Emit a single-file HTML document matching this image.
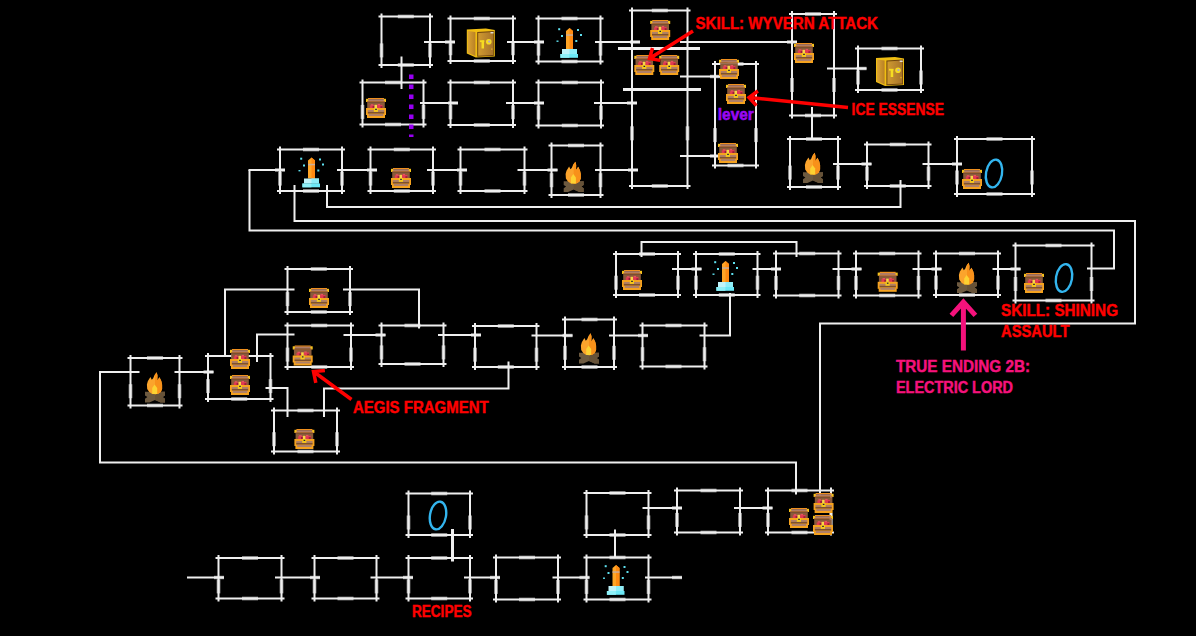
<!DOCTYPE html>
<html><head><meta charset="utf-8"><style>
html,body{margin:0;padding:0;background:#000;width:1196px;height:636px;overflow:hidden;position:relative}
</style></head><body>
<svg width="1196" height="636" viewBox="0 0 1196 636" style="position:absolute;left:0;top:0">
<defs>
<linearGradient id="sg" x1="0" x2="1" y1="0" y2="0"><stop offset="0" stop-color="#cf9a30"/><stop offset="1" stop-color="#a8742a"/></linearGradient>
<linearGradient id="sg2" x1="0" x2="1" y1="0" y2="0"><stop offset="0" stop-color="#dca432"/><stop offset="1" stop-color="#b88026"/></linearGradient>
</defs>
<rect width="1196" height="636" fill="#000"/>
<g fill="#a8a8a8">
<rect x="397.8" y="14.7" width="16" height="3.6"/>
<rect x="397.8" y="63.2" width="16" height="3.6"/>
<rect x="379.7" y="43.4" width="3.6" height="14"/>
<rect x="428.2" y="43.4" width="3.6" height="14"/>
<rect x="473.8" y="16.7" width="16" height="3.6"/>
<rect x="473.8" y="59.2" width="16" height="3.6"/>
<rect x="448.7" y="41.2" width="3.6" height="14"/>
<rect x="511.2" y="41.2" width="3.6" height="14"/>
<rect x="561.5" y="16.7" width="16" height="3.6"/>
<rect x="561.5" y="59.7" width="16" height="3.6"/>
<rect x="536.7" y="41.6" width="3.6" height="14"/>
<rect x="598.7" y="41.6" width="3.6" height="14"/>
<rect x="651.8" y="8.7" width="16" height="3.6"/>
<rect x="651.8" y="184.2" width="16" height="3.6"/>
<rect x="630.2" y="126.3" width="3.6" height="14"/>
<rect x="685.7" y="126.3" width="3.6" height="14"/>
<rect x="805.0" y="12.2" width="16" height="3.6"/>
<rect x="805.0" y="113.7" width="16" height="3.6"/>
<rect x="790.2" y="78.0" width="3.6" height="14"/>
<rect x="832.2" y="78.0" width="3.6" height="14"/>
<rect x="881.5" y="46.7" width="16" height="3.6"/>
<rect x="881.5" y="88.2" width="16" height="3.6"/>
<rect x="856.2" y="70.5" width="3.6" height="14"/>
<rect x="919.2" y="70.5" width="3.6" height="14"/>
<rect x="385.0" y="80.7" width="16" height="3.6"/>
<rect x="385.0" y="122.7" width="16" height="3.6"/>
<rect x="360.7" y="104.9" width="3.6" height="14"/>
<rect x="421.7" y="104.9" width="3.6" height="14"/>
<rect x="473.8" y="80.7" width="16" height="3.6"/>
<rect x="473.8" y="123.2" width="16" height="3.6"/>
<rect x="448.7" y="105.2" width="3.6" height="14"/>
<rect x="511.2" y="105.2" width="3.6" height="14"/>
<rect x="561.8" y="80.7" width="16" height="3.6"/>
<rect x="561.8" y="123.7" width="16" height="3.6"/>
<rect x="536.7" y="105.6" width="3.6" height="14"/>
<rect x="599.2" y="105.6" width="3.6" height="14"/>
<rect x="727.5" y="62.2" width="16" height="3.6"/>
<rect x="727.5" y="163.7" width="16" height="3.6"/>
<rect x="713.2" y="128.1" width="3.6" height="14"/>
<rect x="754.2" y="128.1" width="3.6" height="14"/>
<rect x="303.0" y="147.7" width="16" height="3.6"/>
<rect x="303.0" y="189.2" width="16" height="3.6"/>
<rect x="278.2" y="171.6" width="3.6" height="14"/>
<rect x="340.2" y="171.6" width="3.6" height="14"/>
<rect x="393.8" y="147.7" width="16" height="3.6"/>
<rect x="393.8" y="189.2" width="16" height="3.6"/>
<rect x="368.7" y="171.6" width="3.6" height="14"/>
<rect x="431.2" y="171.6" width="3.6" height="14"/>
<rect x="484.5" y="147.7" width="16" height="3.6"/>
<rect x="484.5" y="189.2" width="16" height="3.6"/>
<rect x="458.7" y="171.6" width="3.6" height="14"/>
<rect x="522.7" y="171.6" width="3.6" height="14"/>
<rect x="568.0" y="143.7" width="16" height="3.6"/>
<rect x="568.0" y="193.2" width="16" height="3.6"/>
<rect x="549.7" y="173.2" width="3.6" height="14"/>
<rect x="598.7" y="173.2" width="3.6" height="14"/>
<rect x="806.0" y="137.2" width="16" height="3.6"/>
<rect x="806.0" y="185.2" width="16" height="3.6"/>
<rect x="788.2" y="165.6" width="3.6" height="14"/>
<rect x="836.2" y="165.6" width="3.6" height="14"/>
<rect x="889.8" y="142.7" width="16" height="3.6"/>
<rect x="889.8" y="184.2" width="16" height="3.6"/>
<rect x="865.2" y="166.6" width="3.6" height="14"/>
<rect x="926.7" y="166.6" width="3.6" height="14"/>
<rect x="986.5" y="137.2" width="16" height="3.6"/>
<rect x="986.5" y="192.2" width="16" height="3.6"/>
<rect x="955.2" y="170.5" width="3.6" height="14"/>
<rect x="1030.2" y="170.5" width="3.6" height="14"/>
<rect x="639.0" y="252.2" width="16" height="3.6"/>
<rect x="639.0" y="293.2" width="16" height="3.6"/>
<rect x="614.2" y="275.7" width="3.6" height="14"/>
<rect x="676.2" y="275.7" width="3.6" height="14"/>
<rect x="718.8" y="252.2" width="16" height="3.6"/>
<rect x="718.8" y="293.2" width="16" height="3.6"/>
<rect x="694.2" y="275.7" width="3.6" height="14"/>
<rect x="755.7" y="275.7" width="3.6" height="14"/>
<rect x="799.2" y="251.7" width="16" height="3.6"/>
<rect x="799.2" y="293.7" width="16" height="3.6"/>
<rect x="774.2" y="275.9" width="3.6" height="14"/>
<rect x="836.7" y="275.9" width="3.6" height="14"/>
<rect x="879.2" y="251.7" width="16" height="3.6"/>
<rect x="879.2" y="293.7" width="16" height="3.6"/>
<rect x="854.2" y="275.9" width="3.6" height="14"/>
<rect x="916.7" y="275.9" width="3.6" height="14"/>
<rect x="959.0" y="251.7" width="16" height="3.6"/>
<rect x="959.0" y="293.2" width="16" height="3.6"/>
<rect x="934.2" y="275.6" width="3.6" height="14"/>
<rect x="996.2" y="275.6" width="3.6" height="14"/>
<rect x="1045.5" y="243.7" width="16" height="3.6"/>
<rect x="1045.5" y="298.7" width="16" height="3.6"/>
<rect x="1013.7" y="277.0" width="3.6" height="14"/>
<rect x="1089.7" y="277.0" width="3.6" height="14"/>
<rect x="310.8" y="267.2" width="16" height="3.6"/>
<rect x="310.8" y="310.2" width="16" height="3.6"/>
<rect x="285.7" y="292.1" width="3.6" height="14"/>
<rect x="348.2" y="292.1" width="3.6" height="14"/>
<rect x="311.2" y="323.7" width="16" height="3.6"/>
<rect x="311.2" y="365.2" width="16" height="3.6"/>
<rect x="285.7" y="347.6" width="3.6" height="14"/>
<rect x="349.2" y="347.6" width="3.6" height="14"/>
<rect x="404.5" y="323.7" width="16" height="3.6"/>
<rect x="404.5" y="362.2" width="16" height="3.6"/>
<rect x="379.7" y="345.4" width="3.6" height="14"/>
<rect x="441.7" y="345.4" width="3.6" height="14"/>
<rect x="231.2" y="354.2" width="16" height="3.6"/>
<rect x="231.2" y="397.2" width="16" height="3.6"/>
<rect x="206.2" y="379.1" width="3.6" height="14"/>
<rect x="268.7" y="379.1" width="3.6" height="14"/>
<rect x="147.0" y="356.2" width="16" height="3.6"/>
<rect x="147.0" y="403.7" width="16" height="3.6"/>
<rect x="128.7" y="384.2" width="3.6" height="14"/>
<rect x="177.7" y="384.2" width="3.6" height="14"/>
<rect x="297.5" y="408.7" width="16" height="3.6"/>
<rect x="297.5" y="449.7" width="16" height="3.6"/>
<rect x="272.2" y="432.2" width="3.6" height="14"/>
<rect x="335.2" y="432.2" width="3.6" height="14"/>
<rect x="497.8" y="324.2" width="16" height="3.6"/>
<rect x="497.8" y="365.2" width="16" height="3.6"/>
<rect x="473.2" y="347.7" width="3.6" height="14"/>
<rect x="534.7" y="347.7" width="3.6" height="14"/>
<rect x="581.5" y="317.7" width="16" height="3.6"/>
<rect x="581.5" y="365.2" width="16" height="3.6"/>
<rect x="563.2" y="345.8" width="3.6" height="14"/>
<rect x="612.2" y="345.8" width="3.6" height="14"/>
<rect x="665.5" y="323.7" width="16" height="3.6"/>
<rect x="665.5" y="364.7" width="16" height="3.6"/>
<rect x="640.7" y="347.2" width="3.6" height="14"/>
<rect x="702.7" y="347.2" width="3.6" height="14"/>
<rect x="431.2" y="491.7" width="16" height="3.6"/>
<rect x="431.2" y="533.2" width="16" height="3.6"/>
<rect x="406.7" y="515.5" width="3.6" height="14"/>
<rect x="468.2" y="515.5" width="3.6" height="14"/>
<rect x="242.0" y="556.2" width="16" height="3.6"/>
<rect x="242.0" y="596.7" width="16" height="3.6"/>
<rect x="216.7" y="579.4" width="3.6" height="14"/>
<rect x="279.7" y="579.4" width="3.6" height="14"/>
<rect x="337.5" y="556.2" width="16" height="3.6"/>
<rect x="337.5" y="596.7" width="16" height="3.6"/>
<rect x="312.7" y="579.4" width="3.6" height="14"/>
<rect x="374.7" y="579.4" width="3.6" height="14"/>
<rect x="431.2" y="556.2" width="16" height="3.6"/>
<rect x="431.2" y="596.7" width="16" height="3.6"/>
<rect x="406.7" y="579.4" width="3.6" height="14"/>
<rect x="468.2" y="579.4" width="3.6" height="14"/>
<rect x="519.0" y="555.7" width="16" height="3.6"/>
<rect x="519.0" y="597.7" width="16" height="3.6"/>
<rect x="494.2" y="579.9" width="3.6" height="14"/>
<rect x="556.2" y="579.9" width="3.6" height="14"/>
<rect x="609.5" y="555.7" width="16" height="3.6"/>
<rect x="609.5" y="597.7" width="16" height="3.6"/>
<rect x="584.7" y="579.9" width="3.6" height="14"/>
<rect x="646.7" y="579.9" width="3.6" height="14"/>
<rect x="609.5" y="491.2" width="16" height="3.6"/>
<rect x="609.5" y="533.2" width="16" height="3.6"/>
<rect x="584.7" y="515.4" width="3.6" height="14"/>
<rect x="646.7" y="515.4" width="3.6" height="14"/>
<rect x="700.5" y="488.7" width="16" height="3.6"/>
<rect x="700.5" y="530.7" width="16" height="3.6"/>
<rect x="675.2" y="512.9" width="3.6" height="14"/>
<rect x="738.2" y="512.9" width="3.6" height="14"/>
<rect x="791.5" y="488.7" width="16" height="3.6"/>
<rect x="791.5" y="530.7" width="16" height="3.6"/>
<rect x="766.2" y="512.9" width="3.6" height="14"/>
<rect x="829.2" y="512.9" width="3.6" height="14"/>
<rect x="445.0" y="40.3" width="10" height="3.4"/>
<rect x="534.0" y="40.3" width="10" height="3.4"/>
<rect x="630.0" y="40.3" width="10" height="3.4"/>
<rect x="787.0" y="40.3" width="10" height="3.4"/>
<rect x="448.0" y="101.3" width="10" height="3.4"/>
<rect x="534.0" y="101.3" width="10" height="3.4"/>
<rect x="627.0" y="101.3" width="10" height="3.4"/>
<rect x="710.0" y="74.8" width="10" height="3.4"/>
<rect x="710.0" y="154.3" width="10" height="3.4"/>
<rect x="856.5" y="66.8" width="10" height="3.4"/>
<rect x="861.5" y="162.3" width="10" height="3.4"/>
<rect x="952.0" y="162.3" width="10" height="3.4"/>
<rect x="275.0" y="168.3" width="10" height="3.4"/>
<rect x="367.0" y="168.3" width="10" height="3.4"/>
<rect x="457.0" y="168.3" width="10" height="3.4"/>
<rect x="547.5" y="168.3" width="10" height="3.4"/>
<rect x="628.0" y="168.3" width="10" height="3.4"/>
<rect x="691.5" y="267.3" width="10" height="3.4"/>
<rect x="771.0" y="267.3" width="10" height="3.4"/>
<rect x="851.5" y="267.3" width="10" height="3.4"/>
<rect x="931.5" y="267.3" width="10" height="3.4"/>
<rect x="1010.5" y="267.3" width="10" height="3.4"/>
<rect x="375.5" y="333.3" width="10" height="3.4"/>
<rect x="471.0" y="333.3" width="10" height="3.4"/>
<rect x="562.5" y="333.8" width="10" height="3.4"/>
<rect x="638.0" y="333.8" width="10" height="3.4"/>
<rect x="203.5" y="370.3" width="10" height="3.4"/>
<rect x="214.0" y="575.8" width="10" height="3.4"/>
<rect x="310.0" y="575.8" width="10" height="3.4"/>
<rect x="403.0" y="575.8" width="10" height="3.4"/>
<rect x="490.0" y="575.8" width="10" height="3.4"/>
<rect x="579.5" y="575.8" width="10" height="3.4"/>
<rect x="672.0" y="575.8" width="10" height="3.4"/>
<rect x="672.0" y="506.3" width="10" height="3.4"/>
<rect x="762.5" y="506.3" width="10" height="3.4"/>
</g>
<g stroke="#efefef" stroke-width="2" fill="none" stroke-linecap="butt">
<path d="M378.5 16.5H433.0M378.5 65.0H433.0M381.5 13.5V68.0M430.0 13.5V68.0"/>
<path d="M447.5 18.5H516.0M447.5 61.0H516.0M450.5 15.5V64.0M513.0 15.5V64.0"/>
<path d="M535.5 18.5H603.5M535.5 61.5H603.5M538.5 15.5V64.5M600.5 15.5V64.5"/>
<path d="M629.0 10.5H690.5M629.0 186.0H690.5M632.0 7.5V189.0M687.5 7.5V189.0"/>
<path d="M789.0 14.0H837.0M789.0 115.5H837.0M792.0 11.0V118.5M834.0 11.0V118.5"/>
<path d="M855.0 48.5H924.0M855.0 90.0H924.0M858.0 45.5V93.0M921.0 45.5V93.0"/>
<path d="M359.5 82.5H426.5M359.5 124.5H426.5M362.5 79.5V127.5M423.5 79.5V127.5"/>
<path d="M447.5 82.5H516.0M447.5 125.0H516.0M450.5 79.5V128.0M513.0 79.5V128.0"/>
<path d="M535.5 82.5H604.0M535.5 125.5H604.0M538.5 79.5V128.5M601.0 79.5V128.5"/>
<path d="M712.0 64.0H759.0M712.0 165.5H759.0M715.0 61.0V168.5M756.0 61.0V168.5"/>
<path d="M277.0 149.5H345.0M277.0 191.0H345.0M280.0 146.5V194.0M342.0 146.5V194.0"/>
<path d="M367.5 149.5H436.0M367.5 191.0H436.0M370.5 146.5V194.0M433.0 146.5V194.0"/>
<path d="M457.5 149.5H527.5M457.5 191.0H527.5M460.5 146.5V194.0M524.5 146.5V194.0"/>
<path d="M548.5 145.5H603.5M548.5 195.0H603.5M551.5 142.5V198.0M600.5 142.5V198.0"/>
<path d="M787.0 139.0H841.0M787.0 187.0H841.0M790.0 136.0V190.0M838.0 136.0V190.0"/>
<path d="M864.0 144.5H931.5M864.0 186.0H931.5M867.0 141.5V189.0M928.5 141.5V189.0"/>
<path d="M954.0 139.0H1035.0M954.0 194.0H1035.0M957.0 136.0V197.0M1032.0 136.0V197.0"/>
<path d="M613.0 254.0H681.0M613.0 295.0H681.0M616.0 251.0V298.0M678.0 251.0V298.0"/>
<path d="M693.0 254.0H760.5M693.0 295.0H760.5M696.0 251.0V298.0M757.5 251.0V298.0"/>
<path d="M773.0 253.5H841.5M773.0 295.5H841.5M776.0 250.5V298.5M838.5 250.5V298.5"/>
<path d="M853.0 253.5H921.5M853.0 295.5H921.5M856.0 250.5V298.5M918.5 250.5V298.5"/>
<path d="M933.0 253.5H1001.0M933.0 295.0H1001.0M936.0 250.5V298.0M998.0 250.5V298.0"/>
<path d="M1012.5 245.5H1094.5M1012.5 300.5H1094.5M1015.5 242.5V303.5M1091.5 242.5V303.5"/>
<path d="M284.5 269.0H353.0M284.5 312.0H353.0M287.5 266.0V315.0M350.0 266.0V315.0"/>
<path d="M284.5 325.5H354.0M284.5 367.0H354.0M287.5 322.5V370.0M351.0 322.5V370.0"/>
<path d="M378.5 325.5H446.5M378.5 364.0H446.5M381.5 322.5V367.0M443.5 322.5V367.0"/>
<path d="M205.0 356.0H273.5M205.0 399.0H273.5M208.0 353.0V402.0M270.5 353.0V402.0"/>
<path d="M127.5 358.0H182.5M127.5 405.5H182.5M130.5 355.0V408.5M179.5 355.0V408.5"/>
<path d="M271.0 410.5H340.0M271.0 451.5H340.0M274.0 407.5V454.5M337.0 407.5V454.5"/>
<path d="M472.0 326.0H539.5M472.0 367.0H539.5M475.0 323.0V370.0M536.5 323.0V370.0"/>
<path d="M562.0 319.5H617.0M562.0 367.0H617.0M565.0 316.5V370.0M614.0 316.5V370.0"/>
<path d="M639.5 325.5H707.5M639.5 366.5H707.5M642.5 322.5V369.5M704.5 322.5V369.5"/>
<path d="M405.5 493.5H473.0M405.5 535.0H473.0M408.5 490.5V538.0M470.0 490.5V538.0"/>
<path d="M215.5 558.0H284.5M215.5 598.5H284.5M218.5 555.0V601.5M281.5 555.0V601.5"/>
<path d="M311.5 558.0H379.5M311.5 598.5H379.5M314.5 555.0V601.5M376.5 555.0V601.5"/>
<path d="M405.5 558.0H473.0M405.5 598.5H473.0M408.5 555.0V601.5M470.0 555.0V601.5"/>
<path d="M493.0 557.5H561.0M493.0 599.5H561.0M496.0 554.5V602.5M558.0 554.5V602.5"/>
<path d="M583.5 557.5H651.5M583.5 599.5H651.5M586.5 554.5V602.5M648.5 554.5V602.5"/>
<path d="M583.5 493.0H651.5M583.5 535.0H651.5M586.5 490.0V538.0M648.5 490.0V538.0"/>
<path d="M674.0 490.5H743.0M674.0 532.5H743.0M677.0 487.5V535.5M740.0 487.5V535.5"/>
<path d="M765.0 490.5H834.0M765.0 532.5H834.0M768.0 487.5V535.5M831.0 487.5V535.5"/>
<path d="M424.0 42.0 L455.0 42.0"/>
<path d="M507.0 42.0 L544.0 42.0"/>
<path d="M595.0 42.0 L640.0 42.0"/>
<path d="M680.0 42.0 L797.0 42.0"/>
<path d="M401.5 56.5 L401.5 89.0"/>
<path d="M420.0 103.0 L458.0 103.0"/>
<path d="M506.0 103.0 L544.0 103.0"/>
<path d="M594.0 103.0 L637.0 103.0"/>
<path d="M680.0 76.5 L720.0 76.5"/>
<path d="M680.0 156.0 L720.0 156.0"/>
<path d="M827.0 68.5 L866.5 68.5"/>
<path d="M812.0 107.0 L812.0 140.0"/>
<path d="M833.0 164.0 L871.5 164.0"/>
<path d="M922.5 164.0 L962.0 164.0"/>
<path d="M900.5 180.0 L900.5 207.0 L327.0 207.0 L327.0 185.0"/>
<path d="M294.5 185.0 L294.5 221.0 L1135.0 221.0 L1135.0 323.5 L820.0 323.5 L820.0 494.5"/>
<path d="M249.5 170.0 L249.5 230.5 L1114.0 230.5 L1114.0 268.5 L1087.0 268.5"/>
<path d="M248.5 170.0 L285.0 170.0"/>
<path d="M337.0 170.0 L377.0 170.0"/>
<path d="M427.0 170.0 L467.0 170.0"/>
<path d="M517.5 170.0 L557.5 170.0"/>
<path d="M595.0 170.0 L638.0 170.0"/>
<path d="M641.5 257.0 L641.5 242.0 L796.5 242.0 L796.5 257.0"/>
<path d="M672.0 269.0 L701.5 269.0"/>
<path d="M752.5 269.0 L781.0 269.0"/>
<path d="M832.5 269.0 L861.5 269.0"/>
<path d="M912.5 269.0 L941.5 269.0"/>
<path d="M992.5 269.0 L1020.5 269.0"/>
<path d="M730.0 293.0 L730.0 335.5 L699.5 335.5"/>
<path d="M225.0 356.0 L225.0 289.5 L294.5 289.5"/>
<path d="M343.0 289.5 L419.0 289.5 L419.0 328.5"/>
<path d="M257.0 362.0 L257.0 334.5 L294.5 334.5"/>
<path d="M343.5 335.0 L385.5 335.0"/>
<path d="M438.0 335.0 L481.0 335.0"/>
<path d="M531.5 335.5 L572.5 335.5"/>
<path d="M609.0 335.5 L648.0 335.5"/>
<path d="M174.5 372.0 L213.5 372.0"/>
<path d="M139.5 372.0 L100.0 372.0 L100.0 462.5 L796.0 462.5 L796.0 494.5"/>
<path d="M265.5 388.0 L287.5 388.0 L287.5 417.0"/>
<path d="M324.0 417.0 L324.0 388.5 L508.5 388.5 L508.5 361.5"/>
<path d="M187.0 577.5 L224.0 577.5"/>
<path d="M275.0 577.5 L320.0 577.5"/>
<path d="M370.5 577.5 L413.0 577.5"/>
<path d="M464.0 577.5 L500.0 577.5"/>
<path d="M552.5 577.5 L589.5 577.5"/>
<path d="M645.0 577.5 L682.0 577.5"/>
<path d="M615.0 529.5 L615.0 558.0"/>
<path d="M642.5 508.0 L682.0 508.0"/>
<path d="M734.0 508.0 L772.5 508.0"/>
<path d="M618 48.5 L700 48.5" stroke-width="3" stroke-linecap="butt"/>
<path d="M623 89.5 L701 89.5" stroke-width="3" stroke-linecap="butt"/>
<path d="M452.5 529 L452.5 561.5" stroke-width="3" stroke-linecap="butt"/>
</g>
<g transform="translate(366.0 98.0)"><rect x="2" y="0" width="16" height="1.3" fill="#f0901e"/>
<rect x="1" y="1.2" width="18" height="2" fill="#b07c66"/>
<rect x="0" y="0.8" width="2.2" height="3.2" fill="#f6c21a"/>
<rect x="17.8" y="0.8" width="2.2" height="3.2" fill="#f6c21a"/>
<rect x="1" y="3.1" width="18" height="1.2" fill="#b5703a"/>
<rect x="1.2" y="4.2" width="17.6" height="6" fill="#8a5a3a"/>
<rect x="3.8" y="7.3" width="5" height="2.9" fill="#e03a50"/>
<rect x="4.8" y="6.2" width="2.6" height="1.4" fill="#e85060"/>
<rect x="6.6" y="8" width="2" height="2.2" fill="#981c3c"/>
<rect x="10.8" y="6.9" width="5.6" height="3.3" fill="#e03a50"/>
<rect x="11.6" y="5.9" width="2.4" height="1.4" fill="#e85060"/>
<rect x="14.4" y="8.2" width="2" height="2" fill="#981c3c"/>
<rect x="8.5" y="6.8" width="2.5" height="3.4" fill="#f8d848"/>
<rect x="0" y="10" width="20" height="7" fill="#f5a21e"/>
<rect x="1" y="16.5" width="18" height="3.5" fill="#f5a21e"/>
<rect x="1.8" y="12" width="16.4" height="1.9" fill="#b08068"/>
<rect x="1.8" y="13.9" width="16.4" height="1.7" fill="#7c5032"/>
<rect x="2.8" y="16" width="14.4" height="2" fill="#b08068"/>
<rect x="7.8" y="10" width="4.2" height="3.9" fill="#f6c81a"/>
<rect x="9.2" y="10.8" width="1.6" height="1.2" fill="#1c2040"/></g>
<g transform="translate(650.2 20.0)"><rect x="2" y="0" width="16" height="1.3" fill="#f0901e"/>
<rect x="1" y="1.2" width="18" height="2" fill="#b07c66"/>
<rect x="0" y="0.8" width="2.2" height="3.2" fill="#f6c21a"/>
<rect x="17.8" y="0.8" width="2.2" height="3.2" fill="#f6c21a"/>
<rect x="1" y="3.1" width="18" height="1.2" fill="#b5703a"/>
<rect x="1.2" y="4.2" width="17.6" height="6" fill="#8a5a3a"/>
<rect x="3.8" y="7.3" width="5" height="2.9" fill="#e03a50"/>
<rect x="4.8" y="6.2" width="2.6" height="1.4" fill="#e85060"/>
<rect x="6.6" y="8" width="2" height="2.2" fill="#981c3c"/>
<rect x="10.8" y="6.9" width="5.6" height="3.3" fill="#e03a50"/>
<rect x="11.6" y="5.9" width="2.4" height="1.4" fill="#e85060"/>
<rect x="14.4" y="8.2" width="2" height="2" fill="#981c3c"/>
<rect x="8.5" y="6.8" width="2.5" height="3.4" fill="#f8d848"/>
<rect x="0" y="10" width="20" height="7" fill="#f5a21e"/>
<rect x="1" y="16.5" width="18" height="3.5" fill="#f5a21e"/>
<rect x="1.8" y="12" width="16.4" height="1.9" fill="#b08068"/>
<rect x="1.8" y="13.9" width="16.4" height="1.7" fill="#7c5032"/>
<rect x="2.8" y="16" width="14.4" height="2" fill="#b08068"/>
<rect x="7.8" y="10" width="4.2" height="3.9" fill="#f6c81a"/>
<rect x="9.2" y="10.8" width="1.6" height="1.2" fill="#1c2040"/></g>
<g transform="translate(634.3 55.0)"><rect x="2" y="0" width="16" height="1.3" fill="#f0901e"/>
<rect x="1" y="1.2" width="18" height="2" fill="#b07c66"/>
<rect x="0" y="0.8" width="2.2" height="3.2" fill="#f6c21a"/>
<rect x="17.8" y="0.8" width="2.2" height="3.2" fill="#f6c21a"/>
<rect x="1" y="3.1" width="18" height="1.2" fill="#b5703a"/>
<rect x="1.2" y="4.2" width="17.6" height="6" fill="#8a5a3a"/>
<rect x="3.8" y="7.3" width="5" height="2.9" fill="#e03a50"/>
<rect x="4.8" y="6.2" width="2.6" height="1.4" fill="#e85060"/>
<rect x="6.6" y="8" width="2" height="2.2" fill="#981c3c"/>
<rect x="10.8" y="6.9" width="5.6" height="3.3" fill="#e03a50"/>
<rect x="11.6" y="5.9" width="2.4" height="1.4" fill="#e85060"/>
<rect x="14.4" y="8.2" width="2" height="2" fill="#981c3c"/>
<rect x="8.5" y="6.8" width="2.5" height="3.4" fill="#f8d848"/>
<rect x="0" y="10" width="20" height="7" fill="#f5a21e"/>
<rect x="1" y="16.5" width="18" height="3.5" fill="#f5a21e"/>
<rect x="1.8" y="12" width="16.4" height="1.9" fill="#b08068"/>
<rect x="1.8" y="13.9" width="16.4" height="1.7" fill="#7c5032"/>
<rect x="2.8" y="16" width="14.4" height="2" fill="#b08068"/>
<rect x="7.8" y="10" width="4.2" height="3.9" fill="#f6c81a"/>
<rect x="9.2" y="10.8" width="1.6" height="1.2" fill="#1c2040"/></g>
<g transform="translate(659.2 55.0)"><rect x="2" y="0" width="16" height="1.3" fill="#f0901e"/>
<rect x="1" y="1.2" width="18" height="2" fill="#b07c66"/>
<rect x="0" y="0.8" width="2.2" height="3.2" fill="#f6c21a"/>
<rect x="17.8" y="0.8" width="2.2" height="3.2" fill="#f6c21a"/>
<rect x="1" y="3.1" width="18" height="1.2" fill="#b5703a"/>
<rect x="1.2" y="4.2" width="17.6" height="6" fill="#8a5a3a"/>
<rect x="3.8" y="7.3" width="5" height="2.9" fill="#e03a50"/>
<rect x="4.8" y="6.2" width="2.6" height="1.4" fill="#e85060"/>
<rect x="6.6" y="8" width="2" height="2.2" fill="#981c3c"/>
<rect x="10.8" y="6.9" width="5.6" height="3.3" fill="#e03a50"/>
<rect x="11.6" y="5.9" width="2.4" height="1.4" fill="#e85060"/>
<rect x="14.4" y="8.2" width="2" height="2" fill="#981c3c"/>
<rect x="8.5" y="6.8" width="2.5" height="3.4" fill="#f8d848"/>
<rect x="0" y="10" width="20" height="7" fill="#f5a21e"/>
<rect x="1" y="16.5" width="18" height="3.5" fill="#f5a21e"/>
<rect x="1.8" y="12" width="16.4" height="1.9" fill="#b08068"/>
<rect x="1.8" y="13.9" width="16.4" height="1.7" fill="#7c5032"/>
<rect x="2.8" y="16" width="14.4" height="2" fill="#b08068"/>
<rect x="7.8" y="10" width="4.2" height="3.9" fill="#f6c81a"/>
<rect x="9.2" y="10.8" width="1.6" height="1.2" fill="#1c2040"/></g>
<g transform="translate(719.0 59.0)"><rect x="2" y="0" width="16" height="1.3" fill="#f0901e"/>
<rect x="1" y="1.2" width="18" height="2" fill="#b07c66"/>
<rect x="0" y="0.8" width="2.2" height="3.2" fill="#f6c21a"/>
<rect x="17.8" y="0.8" width="2.2" height="3.2" fill="#f6c21a"/>
<rect x="1" y="3.1" width="18" height="1.2" fill="#b5703a"/>
<rect x="1.2" y="4.2" width="17.6" height="6" fill="#8a5a3a"/>
<rect x="3.8" y="7.3" width="5" height="2.9" fill="#e03a50"/>
<rect x="4.8" y="6.2" width="2.6" height="1.4" fill="#e85060"/>
<rect x="6.6" y="8" width="2" height="2.2" fill="#981c3c"/>
<rect x="10.8" y="6.9" width="5.6" height="3.3" fill="#e03a50"/>
<rect x="11.6" y="5.9" width="2.4" height="1.4" fill="#e85060"/>
<rect x="14.4" y="8.2" width="2" height="2" fill="#981c3c"/>
<rect x="8.5" y="6.8" width="2.5" height="3.4" fill="#f8d848"/>
<rect x="0" y="10" width="20" height="7" fill="#f5a21e"/>
<rect x="1" y="16.5" width="18" height="3.5" fill="#f5a21e"/>
<rect x="1.8" y="12" width="16.4" height="1.9" fill="#b08068"/>
<rect x="1.8" y="13.9" width="16.4" height="1.7" fill="#7c5032"/>
<rect x="2.8" y="16" width="14.4" height="2" fill="#b08068"/>
<rect x="7.8" y="10" width="4.2" height="3.9" fill="#f6c81a"/>
<rect x="9.2" y="10.8" width="1.6" height="1.2" fill="#1c2040"/></g>
<g transform="translate(726.0 84.0)"><rect x="2" y="0" width="16" height="1.3" fill="#f0901e"/>
<rect x="1" y="1.2" width="18" height="2" fill="#b07c66"/>
<rect x="0" y="0.8" width="2.2" height="3.2" fill="#f6c21a"/>
<rect x="17.8" y="0.8" width="2.2" height="3.2" fill="#f6c21a"/>
<rect x="1" y="3.1" width="18" height="1.2" fill="#b5703a"/>
<rect x="1.2" y="4.2" width="17.6" height="6" fill="#8a5a3a"/>
<rect x="3.8" y="7.3" width="5" height="2.9" fill="#e03a50"/>
<rect x="4.8" y="6.2" width="2.6" height="1.4" fill="#e85060"/>
<rect x="6.6" y="8" width="2" height="2.2" fill="#981c3c"/>
<rect x="10.8" y="6.9" width="5.6" height="3.3" fill="#e03a50"/>
<rect x="11.6" y="5.9" width="2.4" height="1.4" fill="#e85060"/>
<rect x="14.4" y="8.2" width="2" height="2" fill="#981c3c"/>
<rect x="8.5" y="6.8" width="2.5" height="3.4" fill="#f8d848"/>
<rect x="0" y="10" width="20" height="7" fill="#f5a21e"/>
<rect x="1" y="16.5" width="18" height="3.5" fill="#f5a21e"/>
<rect x="1.8" y="12" width="16.4" height="1.9" fill="#b08068"/>
<rect x="1.8" y="13.9" width="16.4" height="1.7" fill="#7c5032"/>
<rect x="2.8" y="16" width="14.4" height="2" fill="#b08068"/>
<rect x="7.8" y="10" width="4.2" height="3.9" fill="#f6c81a"/>
<rect x="9.2" y="10.8" width="1.6" height="1.2" fill="#1c2040"/></g>
<g transform="translate(718.0 143.0)"><rect x="2" y="0" width="16" height="1.3" fill="#f0901e"/>
<rect x="1" y="1.2" width="18" height="2" fill="#b07c66"/>
<rect x="0" y="0.8" width="2.2" height="3.2" fill="#f6c21a"/>
<rect x="17.8" y="0.8" width="2.2" height="3.2" fill="#f6c21a"/>
<rect x="1" y="3.1" width="18" height="1.2" fill="#b5703a"/>
<rect x="1.2" y="4.2" width="17.6" height="6" fill="#8a5a3a"/>
<rect x="3.8" y="7.3" width="5" height="2.9" fill="#e03a50"/>
<rect x="4.8" y="6.2" width="2.6" height="1.4" fill="#e85060"/>
<rect x="6.6" y="8" width="2" height="2.2" fill="#981c3c"/>
<rect x="10.8" y="6.9" width="5.6" height="3.3" fill="#e03a50"/>
<rect x="11.6" y="5.9" width="2.4" height="1.4" fill="#e85060"/>
<rect x="14.4" y="8.2" width="2" height="2" fill="#981c3c"/>
<rect x="8.5" y="6.8" width="2.5" height="3.4" fill="#f8d848"/>
<rect x="0" y="10" width="20" height="7" fill="#f5a21e"/>
<rect x="1" y="16.5" width="18" height="3.5" fill="#f5a21e"/>
<rect x="1.8" y="12" width="16.4" height="1.9" fill="#b08068"/>
<rect x="1.8" y="13.9" width="16.4" height="1.7" fill="#7c5032"/>
<rect x="2.8" y="16" width="14.4" height="2" fill="#b08068"/>
<rect x="7.8" y="10" width="4.2" height="3.9" fill="#f6c81a"/>
<rect x="9.2" y="10.8" width="1.6" height="1.2" fill="#1c2040"/></g>
<g transform="translate(794.0 43.0)"><rect x="2" y="0" width="16" height="1.3" fill="#f0901e"/>
<rect x="1" y="1.2" width="18" height="2" fill="#b07c66"/>
<rect x="0" y="0.8" width="2.2" height="3.2" fill="#f6c21a"/>
<rect x="17.8" y="0.8" width="2.2" height="3.2" fill="#f6c21a"/>
<rect x="1" y="3.1" width="18" height="1.2" fill="#b5703a"/>
<rect x="1.2" y="4.2" width="17.6" height="6" fill="#8a5a3a"/>
<rect x="3.8" y="7.3" width="5" height="2.9" fill="#e03a50"/>
<rect x="4.8" y="6.2" width="2.6" height="1.4" fill="#e85060"/>
<rect x="6.6" y="8" width="2" height="2.2" fill="#981c3c"/>
<rect x="10.8" y="6.9" width="5.6" height="3.3" fill="#e03a50"/>
<rect x="11.6" y="5.9" width="2.4" height="1.4" fill="#e85060"/>
<rect x="14.4" y="8.2" width="2" height="2" fill="#981c3c"/>
<rect x="8.5" y="6.8" width="2.5" height="3.4" fill="#f8d848"/>
<rect x="0" y="10" width="20" height="7" fill="#f5a21e"/>
<rect x="1" y="16.5" width="18" height="3.5" fill="#f5a21e"/>
<rect x="1.8" y="12" width="16.4" height="1.9" fill="#b08068"/>
<rect x="1.8" y="13.9" width="16.4" height="1.7" fill="#7c5032"/>
<rect x="2.8" y="16" width="14.4" height="2" fill="#b08068"/>
<rect x="7.8" y="10" width="4.2" height="3.9" fill="#f6c81a"/>
<rect x="9.2" y="10.8" width="1.6" height="1.2" fill="#1c2040"/></g>
<g transform="translate(391.0 168.0)"><rect x="2" y="0" width="16" height="1.3" fill="#f0901e"/>
<rect x="1" y="1.2" width="18" height="2" fill="#b07c66"/>
<rect x="0" y="0.8" width="2.2" height="3.2" fill="#f6c21a"/>
<rect x="17.8" y="0.8" width="2.2" height="3.2" fill="#f6c21a"/>
<rect x="1" y="3.1" width="18" height="1.2" fill="#b5703a"/>
<rect x="1.2" y="4.2" width="17.6" height="6" fill="#8a5a3a"/>
<rect x="3.8" y="7.3" width="5" height="2.9" fill="#e03a50"/>
<rect x="4.8" y="6.2" width="2.6" height="1.4" fill="#e85060"/>
<rect x="6.6" y="8" width="2" height="2.2" fill="#981c3c"/>
<rect x="10.8" y="6.9" width="5.6" height="3.3" fill="#e03a50"/>
<rect x="11.6" y="5.9" width="2.4" height="1.4" fill="#e85060"/>
<rect x="14.4" y="8.2" width="2" height="2" fill="#981c3c"/>
<rect x="8.5" y="6.8" width="2.5" height="3.4" fill="#f8d848"/>
<rect x="0" y="10" width="20" height="7" fill="#f5a21e"/>
<rect x="1" y="16.5" width="18" height="3.5" fill="#f5a21e"/>
<rect x="1.8" y="12" width="16.4" height="1.9" fill="#b08068"/>
<rect x="1.8" y="13.9" width="16.4" height="1.7" fill="#7c5032"/>
<rect x="2.8" y="16" width="14.4" height="2" fill="#b08068"/>
<rect x="7.8" y="10" width="4.2" height="3.9" fill="#f6c81a"/>
<rect x="9.2" y="10.8" width="1.6" height="1.2" fill="#1c2040"/></g>
<g transform="translate(962.0 169.0)"><rect x="2" y="0" width="16" height="1.3" fill="#f0901e"/>
<rect x="1" y="1.2" width="18" height="2" fill="#b07c66"/>
<rect x="0" y="0.8" width="2.2" height="3.2" fill="#f6c21a"/>
<rect x="17.8" y="0.8" width="2.2" height="3.2" fill="#f6c21a"/>
<rect x="1" y="3.1" width="18" height="1.2" fill="#b5703a"/>
<rect x="1.2" y="4.2" width="17.6" height="6" fill="#8a5a3a"/>
<rect x="3.8" y="7.3" width="5" height="2.9" fill="#e03a50"/>
<rect x="4.8" y="6.2" width="2.6" height="1.4" fill="#e85060"/>
<rect x="6.6" y="8" width="2" height="2.2" fill="#981c3c"/>
<rect x="10.8" y="6.9" width="5.6" height="3.3" fill="#e03a50"/>
<rect x="11.6" y="5.9" width="2.4" height="1.4" fill="#e85060"/>
<rect x="14.4" y="8.2" width="2" height="2" fill="#981c3c"/>
<rect x="8.5" y="6.8" width="2.5" height="3.4" fill="#f8d848"/>
<rect x="0" y="10" width="20" height="7" fill="#f5a21e"/>
<rect x="1" y="16.5" width="18" height="3.5" fill="#f5a21e"/>
<rect x="1.8" y="12" width="16.4" height="1.9" fill="#b08068"/>
<rect x="1.8" y="13.9" width="16.4" height="1.7" fill="#7c5032"/>
<rect x="2.8" y="16" width="14.4" height="2" fill="#b08068"/>
<rect x="7.8" y="10" width="4.2" height="3.9" fill="#f6c81a"/>
<rect x="9.2" y="10.8" width="1.6" height="1.2" fill="#1c2040"/></g>
<g transform="translate(622.0 270.0)"><rect x="2" y="0" width="16" height="1.3" fill="#f0901e"/>
<rect x="1" y="1.2" width="18" height="2" fill="#b07c66"/>
<rect x="0" y="0.8" width="2.2" height="3.2" fill="#f6c21a"/>
<rect x="17.8" y="0.8" width="2.2" height="3.2" fill="#f6c21a"/>
<rect x="1" y="3.1" width="18" height="1.2" fill="#b5703a"/>
<rect x="1.2" y="4.2" width="17.6" height="6" fill="#8a5a3a"/>
<rect x="3.8" y="7.3" width="5" height="2.9" fill="#e03a50"/>
<rect x="4.8" y="6.2" width="2.6" height="1.4" fill="#e85060"/>
<rect x="6.6" y="8" width="2" height="2.2" fill="#981c3c"/>
<rect x="10.8" y="6.9" width="5.6" height="3.3" fill="#e03a50"/>
<rect x="11.6" y="5.9" width="2.4" height="1.4" fill="#e85060"/>
<rect x="14.4" y="8.2" width="2" height="2" fill="#981c3c"/>
<rect x="8.5" y="6.8" width="2.5" height="3.4" fill="#f8d848"/>
<rect x="0" y="10" width="20" height="7" fill="#f5a21e"/>
<rect x="1" y="16.5" width="18" height="3.5" fill="#f5a21e"/>
<rect x="1.8" y="12" width="16.4" height="1.9" fill="#b08068"/>
<rect x="1.8" y="13.9" width="16.4" height="1.7" fill="#7c5032"/>
<rect x="2.8" y="16" width="14.4" height="2" fill="#b08068"/>
<rect x="7.8" y="10" width="4.2" height="3.9" fill="#f6c81a"/>
<rect x="9.2" y="10.8" width="1.6" height="1.2" fill="#1c2040"/></g>
<g transform="translate(877.7 271.8)"><rect x="2" y="0" width="16" height="1.3" fill="#f0901e"/>
<rect x="1" y="1.2" width="18" height="2" fill="#b07c66"/>
<rect x="0" y="0.8" width="2.2" height="3.2" fill="#f6c21a"/>
<rect x="17.8" y="0.8" width="2.2" height="3.2" fill="#f6c21a"/>
<rect x="1" y="3.1" width="18" height="1.2" fill="#b5703a"/>
<rect x="1.2" y="4.2" width="17.6" height="6" fill="#8a5a3a"/>
<rect x="3.8" y="7.3" width="5" height="2.9" fill="#e03a50"/>
<rect x="4.8" y="6.2" width="2.6" height="1.4" fill="#e85060"/>
<rect x="6.6" y="8" width="2" height="2.2" fill="#981c3c"/>
<rect x="10.8" y="6.9" width="5.6" height="3.3" fill="#e03a50"/>
<rect x="11.6" y="5.9" width="2.4" height="1.4" fill="#e85060"/>
<rect x="14.4" y="8.2" width="2" height="2" fill="#981c3c"/>
<rect x="8.5" y="6.8" width="2.5" height="3.4" fill="#f8d848"/>
<rect x="0" y="10" width="20" height="7" fill="#f5a21e"/>
<rect x="1" y="16.5" width="18" height="3.5" fill="#f5a21e"/>
<rect x="1.8" y="12" width="16.4" height="1.9" fill="#b08068"/>
<rect x="1.8" y="13.9" width="16.4" height="1.7" fill="#7c5032"/>
<rect x="2.8" y="16" width="14.4" height="2" fill="#b08068"/>
<rect x="7.8" y="10" width="4.2" height="3.9" fill="#f6c81a"/>
<rect x="9.2" y="10.8" width="1.6" height="1.2" fill="#1c2040"/></g>
<g transform="translate(1024.0 273.0)"><rect x="2" y="0" width="16" height="1.3" fill="#f0901e"/>
<rect x="1" y="1.2" width="18" height="2" fill="#b07c66"/>
<rect x="0" y="0.8" width="2.2" height="3.2" fill="#f6c21a"/>
<rect x="17.8" y="0.8" width="2.2" height="3.2" fill="#f6c21a"/>
<rect x="1" y="3.1" width="18" height="1.2" fill="#b5703a"/>
<rect x="1.2" y="4.2" width="17.6" height="6" fill="#8a5a3a"/>
<rect x="3.8" y="7.3" width="5" height="2.9" fill="#e03a50"/>
<rect x="4.8" y="6.2" width="2.6" height="1.4" fill="#e85060"/>
<rect x="6.6" y="8" width="2" height="2.2" fill="#981c3c"/>
<rect x="10.8" y="6.9" width="5.6" height="3.3" fill="#e03a50"/>
<rect x="11.6" y="5.9" width="2.4" height="1.4" fill="#e85060"/>
<rect x="14.4" y="8.2" width="2" height="2" fill="#981c3c"/>
<rect x="8.5" y="6.8" width="2.5" height="3.4" fill="#f8d848"/>
<rect x="0" y="10" width="20" height="7" fill="#f5a21e"/>
<rect x="1" y="16.5" width="18" height="3.5" fill="#f5a21e"/>
<rect x="1.8" y="12" width="16.4" height="1.9" fill="#b08068"/>
<rect x="1.8" y="13.9" width="16.4" height="1.7" fill="#7c5032"/>
<rect x="2.8" y="16" width="14.4" height="2" fill="#b08068"/>
<rect x="7.8" y="10" width="4.2" height="3.9" fill="#f6c81a"/>
<rect x="9.2" y="10.8" width="1.6" height="1.2" fill="#1c2040"/></g>
<g transform="translate(309.0 288.0)"><rect x="2" y="0" width="16" height="1.3" fill="#f0901e"/>
<rect x="1" y="1.2" width="18" height="2" fill="#b07c66"/>
<rect x="0" y="0.8" width="2.2" height="3.2" fill="#f6c21a"/>
<rect x="17.8" y="0.8" width="2.2" height="3.2" fill="#f6c21a"/>
<rect x="1" y="3.1" width="18" height="1.2" fill="#b5703a"/>
<rect x="1.2" y="4.2" width="17.6" height="6" fill="#8a5a3a"/>
<rect x="3.8" y="7.3" width="5" height="2.9" fill="#e03a50"/>
<rect x="4.8" y="6.2" width="2.6" height="1.4" fill="#e85060"/>
<rect x="6.6" y="8" width="2" height="2.2" fill="#981c3c"/>
<rect x="10.8" y="6.9" width="5.6" height="3.3" fill="#e03a50"/>
<rect x="11.6" y="5.9" width="2.4" height="1.4" fill="#e85060"/>
<rect x="14.4" y="8.2" width="2" height="2" fill="#981c3c"/>
<rect x="8.5" y="6.8" width="2.5" height="3.4" fill="#f8d848"/>
<rect x="0" y="10" width="20" height="7" fill="#f5a21e"/>
<rect x="1" y="16.5" width="18" height="3.5" fill="#f5a21e"/>
<rect x="1.8" y="12" width="16.4" height="1.9" fill="#b08068"/>
<rect x="1.8" y="13.9" width="16.4" height="1.7" fill="#7c5032"/>
<rect x="2.8" y="16" width="14.4" height="2" fill="#b08068"/>
<rect x="7.8" y="10" width="4.2" height="3.9" fill="#f6c81a"/>
<rect x="9.2" y="10.8" width="1.6" height="1.2" fill="#1c2040"/></g>
<g transform="translate(292.7 345.5)"><rect x="2" y="0" width="16" height="1.3" fill="#f0901e"/>
<rect x="1" y="1.2" width="18" height="2" fill="#b07c66"/>
<rect x="0" y="0.8" width="2.2" height="3.2" fill="#f6c21a"/>
<rect x="17.8" y="0.8" width="2.2" height="3.2" fill="#f6c21a"/>
<rect x="1" y="3.1" width="18" height="1.2" fill="#b5703a"/>
<rect x="1.2" y="4.2" width="17.6" height="6" fill="#8a5a3a"/>
<rect x="3.8" y="7.3" width="5" height="2.9" fill="#e03a50"/>
<rect x="4.8" y="6.2" width="2.6" height="1.4" fill="#e85060"/>
<rect x="6.6" y="8" width="2" height="2.2" fill="#981c3c"/>
<rect x="10.8" y="6.9" width="5.6" height="3.3" fill="#e03a50"/>
<rect x="11.6" y="5.9" width="2.4" height="1.4" fill="#e85060"/>
<rect x="14.4" y="8.2" width="2" height="2" fill="#981c3c"/>
<rect x="8.5" y="6.8" width="2.5" height="3.4" fill="#f8d848"/>
<rect x="0" y="10" width="20" height="7" fill="#f5a21e"/>
<rect x="1" y="16.5" width="18" height="3.5" fill="#f5a21e"/>
<rect x="1.8" y="12" width="16.4" height="1.9" fill="#b08068"/>
<rect x="1.8" y="13.9" width="16.4" height="1.7" fill="#7c5032"/>
<rect x="2.8" y="16" width="14.4" height="2" fill="#b08068"/>
<rect x="7.8" y="10" width="4.2" height="3.9" fill="#f6c81a"/>
<rect x="9.2" y="10.8" width="1.6" height="1.2" fill="#1c2040"/></g>
<g transform="translate(230.0 349.0)"><rect x="2" y="0" width="16" height="1.3" fill="#f0901e"/>
<rect x="1" y="1.2" width="18" height="2" fill="#b07c66"/>
<rect x="0" y="0.8" width="2.2" height="3.2" fill="#f6c21a"/>
<rect x="17.8" y="0.8" width="2.2" height="3.2" fill="#f6c21a"/>
<rect x="1" y="3.1" width="18" height="1.2" fill="#b5703a"/>
<rect x="1.2" y="4.2" width="17.6" height="6" fill="#8a5a3a"/>
<rect x="3.8" y="7.3" width="5" height="2.9" fill="#e03a50"/>
<rect x="4.8" y="6.2" width="2.6" height="1.4" fill="#e85060"/>
<rect x="6.6" y="8" width="2" height="2.2" fill="#981c3c"/>
<rect x="10.8" y="6.9" width="5.6" height="3.3" fill="#e03a50"/>
<rect x="11.6" y="5.9" width="2.4" height="1.4" fill="#e85060"/>
<rect x="14.4" y="8.2" width="2" height="2" fill="#981c3c"/>
<rect x="8.5" y="6.8" width="2.5" height="3.4" fill="#f8d848"/>
<rect x="0" y="10" width="20" height="7" fill="#f5a21e"/>
<rect x="1" y="16.5" width="18" height="3.5" fill="#f5a21e"/>
<rect x="1.8" y="12" width="16.4" height="1.9" fill="#b08068"/>
<rect x="1.8" y="13.9" width="16.4" height="1.7" fill="#7c5032"/>
<rect x="2.8" y="16" width="14.4" height="2" fill="#b08068"/>
<rect x="7.8" y="10" width="4.2" height="3.9" fill="#f6c81a"/>
<rect x="9.2" y="10.8" width="1.6" height="1.2" fill="#1c2040"/></g>
<g transform="translate(230.0 375.0)"><rect x="2" y="0" width="16" height="1.3" fill="#f0901e"/>
<rect x="1" y="1.2" width="18" height="2" fill="#b07c66"/>
<rect x="0" y="0.8" width="2.2" height="3.2" fill="#f6c21a"/>
<rect x="17.8" y="0.8" width="2.2" height="3.2" fill="#f6c21a"/>
<rect x="1" y="3.1" width="18" height="1.2" fill="#b5703a"/>
<rect x="1.2" y="4.2" width="17.6" height="6" fill="#8a5a3a"/>
<rect x="3.8" y="7.3" width="5" height="2.9" fill="#e03a50"/>
<rect x="4.8" y="6.2" width="2.6" height="1.4" fill="#e85060"/>
<rect x="6.6" y="8" width="2" height="2.2" fill="#981c3c"/>
<rect x="10.8" y="6.9" width="5.6" height="3.3" fill="#e03a50"/>
<rect x="11.6" y="5.9" width="2.4" height="1.4" fill="#e85060"/>
<rect x="14.4" y="8.2" width="2" height="2" fill="#981c3c"/>
<rect x="8.5" y="6.8" width="2.5" height="3.4" fill="#f8d848"/>
<rect x="0" y="10" width="20" height="7" fill="#f5a21e"/>
<rect x="1" y="16.5" width="18" height="3.5" fill="#f5a21e"/>
<rect x="1.8" y="12" width="16.4" height="1.9" fill="#b08068"/>
<rect x="1.8" y="13.9" width="16.4" height="1.7" fill="#7c5032"/>
<rect x="2.8" y="16" width="14.4" height="2" fill="#b08068"/>
<rect x="7.8" y="10" width="4.2" height="3.9" fill="#f6c81a"/>
<rect x="9.2" y="10.8" width="1.6" height="1.2" fill="#1c2040"/></g>
<g transform="translate(294.4 429.0)"><rect x="2" y="0" width="16" height="1.3" fill="#f0901e"/>
<rect x="1" y="1.2" width="18" height="2" fill="#b07c66"/>
<rect x="0" y="0.8" width="2.2" height="3.2" fill="#f6c21a"/>
<rect x="17.8" y="0.8" width="2.2" height="3.2" fill="#f6c21a"/>
<rect x="1" y="3.1" width="18" height="1.2" fill="#b5703a"/>
<rect x="1.2" y="4.2" width="17.6" height="6" fill="#8a5a3a"/>
<rect x="3.8" y="7.3" width="5" height="2.9" fill="#e03a50"/>
<rect x="4.8" y="6.2" width="2.6" height="1.4" fill="#e85060"/>
<rect x="6.6" y="8" width="2" height="2.2" fill="#981c3c"/>
<rect x="10.8" y="6.9" width="5.6" height="3.3" fill="#e03a50"/>
<rect x="11.6" y="5.9" width="2.4" height="1.4" fill="#e85060"/>
<rect x="14.4" y="8.2" width="2" height="2" fill="#981c3c"/>
<rect x="8.5" y="6.8" width="2.5" height="3.4" fill="#f8d848"/>
<rect x="0" y="10" width="20" height="7" fill="#f5a21e"/>
<rect x="1" y="16.5" width="18" height="3.5" fill="#f5a21e"/>
<rect x="1.8" y="12" width="16.4" height="1.9" fill="#b08068"/>
<rect x="1.8" y="13.9" width="16.4" height="1.7" fill="#7c5032"/>
<rect x="2.8" y="16" width="14.4" height="2" fill="#b08068"/>
<rect x="7.8" y="10" width="4.2" height="3.9" fill="#f6c81a"/>
<rect x="9.2" y="10.8" width="1.6" height="1.2" fill="#1c2040"/></g>
<g transform="translate(789.0 508.0)"><rect x="2" y="0" width="16" height="1.3" fill="#f0901e"/>
<rect x="1" y="1.2" width="18" height="2" fill="#b07c66"/>
<rect x="0" y="0.8" width="2.2" height="3.2" fill="#f6c21a"/>
<rect x="17.8" y="0.8" width="2.2" height="3.2" fill="#f6c21a"/>
<rect x="1" y="3.1" width="18" height="1.2" fill="#b5703a"/>
<rect x="1.2" y="4.2" width="17.6" height="6" fill="#8a5a3a"/>
<rect x="3.8" y="7.3" width="5" height="2.9" fill="#e03a50"/>
<rect x="4.8" y="6.2" width="2.6" height="1.4" fill="#e85060"/>
<rect x="6.6" y="8" width="2" height="2.2" fill="#981c3c"/>
<rect x="10.8" y="6.9" width="5.6" height="3.3" fill="#e03a50"/>
<rect x="11.6" y="5.9" width="2.4" height="1.4" fill="#e85060"/>
<rect x="14.4" y="8.2" width="2" height="2" fill="#981c3c"/>
<rect x="8.5" y="6.8" width="2.5" height="3.4" fill="#f8d848"/>
<rect x="0" y="10" width="20" height="7" fill="#f5a21e"/>
<rect x="1" y="16.5" width="18" height="3.5" fill="#f5a21e"/>
<rect x="1.8" y="12" width="16.4" height="1.9" fill="#b08068"/>
<rect x="1.8" y="13.9" width="16.4" height="1.7" fill="#7c5032"/>
<rect x="2.8" y="16" width="14.4" height="2" fill="#b08068"/>
<rect x="7.8" y="10" width="4.2" height="3.9" fill="#f6c81a"/>
<rect x="9.2" y="10.8" width="1.6" height="1.2" fill="#1c2040"/></g>
<g transform="translate(813.6 493.0)"><rect x="2" y="0" width="16" height="1.3" fill="#f0901e"/>
<rect x="1" y="1.2" width="18" height="2" fill="#b07c66"/>
<rect x="0" y="0.8" width="2.2" height="3.2" fill="#f6c21a"/>
<rect x="17.8" y="0.8" width="2.2" height="3.2" fill="#f6c21a"/>
<rect x="1" y="3.1" width="18" height="1.2" fill="#b5703a"/>
<rect x="1.2" y="4.2" width="17.6" height="6" fill="#8a5a3a"/>
<rect x="3.8" y="7.3" width="5" height="2.9" fill="#e03a50"/>
<rect x="4.8" y="6.2" width="2.6" height="1.4" fill="#e85060"/>
<rect x="6.6" y="8" width="2" height="2.2" fill="#981c3c"/>
<rect x="10.8" y="6.9" width="5.6" height="3.3" fill="#e03a50"/>
<rect x="11.6" y="5.9" width="2.4" height="1.4" fill="#e85060"/>
<rect x="14.4" y="8.2" width="2" height="2" fill="#981c3c"/>
<rect x="8.5" y="6.8" width="2.5" height="3.4" fill="#f8d848"/>
<rect x="0" y="10" width="20" height="7" fill="#f5a21e"/>
<rect x="1" y="16.5" width="18" height="3.5" fill="#f5a21e"/>
<rect x="1.8" y="12" width="16.4" height="1.9" fill="#b08068"/>
<rect x="1.8" y="13.9" width="16.4" height="1.7" fill="#7c5032"/>
<rect x="2.8" y="16" width="14.4" height="2" fill="#b08068"/>
<rect x="7.8" y="10" width="4.2" height="3.9" fill="#f6c81a"/>
<rect x="9.2" y="10.8" width="1.6" height="1.2" fill="#1c2040"/></g>
<g transform="translate(813.0 515.0)"><rect x="2" y="0" width="16" height="1.3" fill="#f0901e"/>
<rect x="1" y="1.2" width="18" height="2" fill="#b07c66"/>
<rect x="0" y="0.8" width="2.2" height="3.2" fill="#f6c21a"/>
<rect x="17.8" y="0.8" width="2.2" height="3.2" fill="#f6c21a"/>
<rect x="1" y="3.1" width="18" height="1.2" fill="#b5703a"/>
<rect x="1.2" y="4.2" width="17.6" height="6" fill="#8a5a3a"/>
<rect x="3.8" y="7.3" width="5" height="2.9" fill="#e03a50"/>
<rect x="4.8" y="6.2" width="2.6" height="1.4" fill="#e85060"/>
<rect x="6.6" y="8" width="2" height="2.2" fill="#981c3c"/>
<rect x="10.8" y="6.9" width="5.6" height="3.3" fill="#e03a50"/>
<rect x="11.6" y="5.9" width="2.4" height="1.4" fill="#e85060"/>
<rect x="14.4" y="8.2" width="2" height="2" fill="#981c3c"/>
<rect x="8.5" y="6.8" width="2.5" height="3.4" fill="#f8d848"/>
<rect x="0" y="10" width="20" height="7" fill="#f5a21e"/>
<rect x="1" y="16.5" width="18" height="3.5" fill="#f5a21e"/>
<rect x="1.8" y="12" width="16.4" height="1.9" fill="#b08068"/>
<rect x="1.8" y="13.9" width="16.4" height="1.7" fill="#7c5032"/>
<rect x="2.8" y="16" width="14.4" height="2" fill="#b08068"/>
<rect x="7.8" y="10" width="4.2" height="3.9" fill="#f6c81a"/>
<rect x="9.2" y="10.8" width="1.6" height="1.2" fill="#1c2040"/></g>
<g transform="translate(556.0 27.0)"><path d="M10 4 L13.5 1 L17 4 L17 22 L10 22Z" fill="#ffa526"/>
<path d="M13.5 1 L17 4 L17 22 L13.5 22Z" fill="#ff8a12"/>
<rect x="10" y="7.3" width="7" height="1.5" fill="#c9ad9b"/>
<rect x="6" y="22" width="15" height="5" fill="#bff3fa"/>
<rect x="13.5" y="22" width="7.5" height="5" fill="#8eeef8"/>
<rect x="4.4" y="27" width="17.6" height="3.8" fill="#6ce8f6"/>
<rect x="4.4" y="27" width="9" height="3.8" fill="#8ef0f8"/>
<g fill="#5fe0ef"><rect x="2.2" y="1.2" width="2" height="2"/><rect x="21" y="2" width="2" height="2"/><rect x="5" y="8" width="2" height="2"/><rect x="24" y="7" width="2" height="2"/><rect x="0.5" y="13.5" width="2" height="1.4"/><rect x="19.3" y="13" width="2" height="2"/></g></g>
<g transform="translate(298.0 156.5)"><path d="M10 4 L13.5 1 L17 4 L17 22 L10 22Z" fill="#ffa526"/>
<path d="M13.5 1 L17 4 L17 22 L13.5 22Z" fill="#ff8a12"/>
<rect x="10" y="7.3" width="7" height="1.5" fill="#c9ad9b"/>
<rect x="6" y="22" width="15" height="5" fill="#bff3fa"/>
<rect x="13.5" y="22" width="7.5" height="5" fill="#8eeef8"/>
<rect x="4.4" y="27" width="17.6" height="3.8" fill="#6ce8f6"/>
<rect x="4.4" y="27" width="9" height="3.8" fill="#8ef0f8"/>
<g fill="#5fe0ef"><rect x="2.2" y="1.2" width="2" height="2"/><rect x="21" y="2" width="2" height="2"/><rect x="5" y="8" width="2" height="2"/><rect x="24" y="7" width="2" height="2"/><rect x="0.5" y="13.5" width="2" height="1.4"/><rect x="19.3" y="13" width="2" height="2"/></g></g>
<g transform="translate(712.0 260.0)"><path d="M10 4 L13.5 1 L17 4 L17 22 L10 22Z" fill="#ffa526"/>
<path d="M13.5 1 L17 4 L17 22 L13.5 22Z" fill="#ff8a12"/>
<rect x="10" y="7.3" width="7" height="1.5" fill="#c9ad9b"/>
<rect x="6" y="22" width="15" height="5" fill="#bff3fa"/>
<rect x="13.5" y="22" width="7.5" height="5" fill="#8eeef8"/>
<rect x="4.4" y="27" width="17.6" height="3.8" fill="#6ce8f6"/>
<rect x="4.4" y="27" width="9" height="3.8" fill="#8ef0f8"/>
<g fill="#5fe0ef"><rect x="2.2" y="1.2" width="2" height="2"/><rect x="21" y="2" width="2" height="2"/><rect x="5" y="8" width="2" height="2"/><rect x="24" y="7" width="2" height="2"/><rect x="0.5" y="13.5" width="2" height="1.4"/><rect x="19.3" y="13" width="2" height="2"/></g></g>
<g transform="translate(602.5 564.0)"><path d="M10 4 L13.5 1 L17 4 L17 22 L10 22Z" fill="#ffa526"/>
<path d="M13.5 1 L17 4 L17 22 L13.5 22Z" fill="#ff8a12"/>
<rect x="10" y="7.3" width="7" height="1.5" fill="#c9ad9b"/>
<rect x="6" y="22" width="15" height="5" fill="#bff3fa"/>
<rect x="13.5" y="22" width="7.5" height="5" fill="#8eeef8"/>
<rect x="4.4" y="27" width="17.6" height="3.8" fill="#6ce8f6"/>
<rect x="4.4" y="27" width="9" height="3.8" fill="#8ef0f8"/>
<g fill="#5fe0ef"><rect x="2.2" y="1.2" width="2" height="2"/><rect x="21" y="2" width="2" height="2"/><rect x="5" y="8" width="2" height="2"/><rect x="24" y="7" width="2" height="2"/><rect x="0.5" y="13.5" width="2" height="1.4"/><rect x="19.3" y="13" width="2" height="2"/></g></g>
<g transform="translate(145.0 372.5)"><path d="M0 19.3 L4 19.3 L10 21.8 L16 19.3 L20 19.3 L20 23 L17.6 24.6 L20 26.2 L20 30 L15.6 30 L10 27.6 L4.4 30 L0 30 L0 26.2 L2.4 24.6 L0 23Z" fill="#6d5a40"/>
<path d="M10 21.8 L16 19.3 L20 19.3 L20 23 L17.6 24.6 L20 26.2 L20 30 L15.6 30 L10 27.6Z" fill="#665238"/>
<path d="M11.7 -0.3 L12.5 3 L12.3 8 L14.5 4.8 L16.3 8.5 L17.1 12 L17.1 16.5 L15.8 19.5 L13.2 21.2 L10 21.8 L6.8 21.2 L4.2 19.5 L2.2 16.5 L1.9 12 L2.8 8.8 L5.4 4.5 L6.8 7.2 L8.2 5.8 L9.5 2.5Z" fill="#fba42c"/>
<path d="M11.7 -0.3 L12.5 3 L12.3 8 L14.5 4.8 L16.3 8.5 L17.1 12 L17.1 16.5 L15.8 19.5 L13.2 21.2 L10 21.8 L10 2Z" fill="#f8911a"/>
<path d="M9.6 12 L12.2 15.5 L12.2 21.6 L7.2 21.6 L7.2 15.5Z" fill="#fcd232"/></g>
<g transform="translate(563.7 162.0)"><path d="M0 19.3 L4 19.3 L10 21.8 L16 19.3 L20 19.3 L20 23 L17.6 24.6 L20 26.2 L20 30 L15.6 30 L10 27.6 L4.4 30 L0 30 L0 26.2 L2.4 24.6 L0 23Z" fill="#6d5a40"/>
<path d="M10 21.8 L16 19.3 L20 19.3 L20 23 L17.6 24.6 L20 26.2 L20 30 L15.6 30 L10 27.6Z" fill="#665238"/>
<path d="M11.7 -0.3 L12.5 3 L12.3 8 L14.5 4.8 L16.3 8.5 L17.1 12 L17.1 16.5 L15.8 19.5 L13.2 21.2 L10 21.8 L6.8 21.2 L4.2 19.5 L2.2 16.5 L1.9 12 L2.8 8.8 L5.4 4.5 L6.8 7.2 L8.2 5.8 L9.5 2.5Z" fill="#fba42c"/>
<path d="M11.7 -0.3 L12.5 3 L12.3 8 L14.5 4.8 L16.3 8.5 L17.1 12 L17.1 16.5 L15.8 19.5 L13.2 21.2 L10 21.8 L10 2Z" fill="#f8911a"/>
<path d="M9.6 12 L12.2 15.5 L12.2 21.6 L7.2 21.6 L7.2 15.5Z" fill="#fcd232"/></g>
<g transform="translate(803.0 153.0)"><path d="M0 19.3 L4 19.3 L10 21.8 L16 19.3 L20 19.3 L20 23 L17.6 24.6 L20 26.2 L20 30 L15.6 30 L10 27.6 L4.4 30 L0 30 L0 26.2 L2.4 24.6 L0 23Z" fill="#6d5a40"/>
<path d="M10 21.8 L16 19.3 L20 19.3 L20 23 L17.6 24.6 L20 26.2 L20 30 L15.6 30 L10 27.6Z" fill="#665238"/>
<path d="M11.7 -0.3 L12.5 3 L12.3 8 L14.5 4.8 L16.3 8.5 L17.1 12 L17.1 16.5 L15.8 19.5 L13.2 21.2 L10 21.8 L6.8 21.2 L4.2 19.5 L2.2 16.5 L1.9 12 L2.8 8.8 L5.4 4.5 L6.8 7.2 L8.2 5.8 L9.5 2.5Z" fill="#fba42c"/>
<path d="M11.7 -0.3 L12.5 3 L12.3 8 L14.5 4.8 L16.3 8.5 L17.1 12 L17.1 16.5 L15.8 19.5 L13.2 21.2 L10 21.8 L10 2Z" fill="#f8911a"/>
<path d="M9.6 12 L12.2 15.5 L12.2 21.6 L7.2 21.6 L7.2 15.5Z" fill="#fcd232"/></g>
<g transform="translate(957.0 263.0)"><path d="M0 19.3 L4 19.3 L10 21.8 L16 19.3 L20 19.3 L20 23 L17.6 24.6 L20 26.2 L20 30 L15.6 30 L10 27.6 L4.4 30 L0 30 L0 26.2 L2.4 24.6 L0 23Z" fill="#6d5a40"/>
<path d="M10 21.8 L16 19.3 L20 19.3 L20 23 L17.6 24.6 L20 26.2 L20 30 L15.6 30 L10 27.6Z" fill="#665238"/>
<path d="M11.7 -0.3 L12.5 3 L12.3 8 L14.5 4.8 L16.3 8.5 L17.1 12 L17.1 16.5 L15.8 19.5 L13.2 21.2 L10 21.8 L6.8 21.2 L4.2 19.5 L2.2 16.5 L1.9 12 L2.8 8.8 L5.4 4.5 L6.8 7.2 L8.2 5.8 L9.5 2.5Z" fill="#fba42c"/>
<path d="M11.7 -0.3 L12.5 3 L12.3 8 L14.5 4.8 L16.3 8.5 L17.1 12 L17.1 16.5 L15.8 19.5 L13.2 21.2 L10 21.8 L10 2Z" fill="#f8911a"/>
<path d="M9.6 12 L12.2 15.5 L12.2 21.6 L7.2 21.6 L7.2 15.5Z" fill="#fcd232"/></g>
<g transform="translate(579.0 333.5)"><path d="M0 19.3 L4 19.3 L10 21.8 L16 19.3 L20 19.3 L20 23 L17.6 24.6 L20 26.2 L20 30 L15.6 30 L10 27.6 L4.4 30 L0 30 L0 26.2 L2.4 24.6 L0 23Z" fill="#6d5a40"/>
<path d="M10 21.8 L16 19.3 L20 19.3 L20 23 L17.6 24.6 L20 26.2 L20 30 L15.6 30 L10 27.6Z" fill="#665238"/>
<path d="M11.7 -0.3 L12.5 3 L12.3 8 L14.5 4.8 L16.3 8.5 L17.1 12 L17.1 16.5 L15.8 19.5 L13.2 21.2 L10 21.8 L6.8 21.2 L4.2 19.5 L2.2 16.5 L1.9 12 L2.8 8.8 L5.4 4.5 L6.8 7.2 L8.2 5.8 L9.5 2.5Z" fill="#fba42c"/>
<path d="M11.7 -0.3 L12.5 3 L12.3 8 L14.5 4.8 L16.3 8.5 L17.1 12 L17.1 16.5 L15.8 19.5 L13.2 21.2 L10 21.8 L10 2Z" fill="#f8911a"/>
<path d="M9.6 12 L12.2 15.5 L12.2 21.6 L7.2 21.6 L7.2 15.5Z" fill="#fcd232"/></g>
<g transform="translate(466.8 28.5)"><path d="M0 1 L19 0 L28 1.5 L28 28 L9 29 L0 25Z" fill="#f0be12"/>
<path d="M1 2.4 L8.6 3.4 L8.6 27.4 L1 24.2Z" fill="url(#sg2)"/>
<path d="M10.4 3.4 L27 2.5 L27 27.4 L10.4 28.3Z" fill="#6e440e"/>
<path d="M11.4 4.4 L26.2 3.5 L26.2 26.6 L11.4 27.3Z" fill="url(#sg)"/>
<rect x="14.7" y="12" width="2.5" height="8" fill="#f6dc22"/>
<rect x="13" y="11.8" width="4.5" height="1.8" fill="#f6dc22"/>
<circle cx="22" cy="13.3" r="2.8" fill="#f6dc22"/>
<circle cx="22.4" cy="13.1" r="1.1" fill="#b0a4c4"/>
<rect x="23.7" y="3.6" width="3" height="1.3" fill="#e8e8e8"/>
<rect x="24.3" y="19.9" width="1.4" height="1.4" fill="#e0b020"/></g>
<g transform="translate(876.0 57.0)"><path d="M0 1 L19 0 L28 1.5 L28 28 L9 29 L0 25Z" fill="#f0be12"/>
<path d="M1 2.4 L8.6 3.4 L8.6 27.4 L1 24.2Z" fill="url(#sg2)"/>
<path d="M10.4 3.4 L27 2.5 L27 27.4 L10.4 28.3Z" fill="#6e440e"/>
<path d="M11.4 4.4 L26.2 3.5 L26.2 26.6 L11.4 27.3Z" fill="url(#sg)"/>
<rect x="14.7" y="12" width="2.5" height="8" fill="#f6dc22"/>
<rect x="13" y="11.8" width="4.5" height="1.8" fill="#f6dc22"/>
<circle cx="22" cy="13.3" r="2.8" fill="#f6dc22"/>
<circle cx="22.4" cy="13.1" r="1.1" fill="#b0a4c4"/>
<rect x="23.7" y="3.6" width="3" height="1.3" fill="#e8e8e8"/>
<rect x="24.3" y="19.9" width="1.4" height="1.4" fill="#e0b020"/></g>
<ellipse cx="994" cy="173.5" rx="8" ry="14" transform="rotate(10 994 173.5)" fill="none" stroke="#33b5ee" stroke-width="2.4"/>
<ellipse cx="1064" cy="278" rx="8" ry="14" transform="rotate(10 1064 278)" fill="none" stroke="#33b5ee" stroke-width="2.4"/>
<ellipse cx="438" cy="515.5" rx="8" ry="14" transform="rotate(10 438 515.5)" fill="none" stroke="#33b5ee" stroke-width="2.4"/>
<rect x="409" y="74.5" width="4.5" height="4.5" fill="#9800f2"/>
<rect x="409" y="84.5" width="4.5" height="4.5" fill="#9800f2"/>
<rect x="409" y="94.5" width="4.5" height="4.5" fill="#9800f2"/>
<rect x="409" y="104.5" width="4.5" height="4.5" fill="#9800f2"/>
<rect x="409" y="114.5" width="4.5" height="4.5" fill="#9800f2"/>
<rect x="409" y="124.5" width="4.5" height="4.5" fill="#9800f2"/>
<rect x="409" y="134.5" width="4.5" height="2.5" fill="#9800f2"/>
<path d="M693.0 31.0 L649.5 58.5 M652.5 47.9 L649.5 58.5 L660.3 60.4" stroke="#ff0000" stroke-width="3.5" fill="none" stroke-linejoin="miter"/>
<path d="M848.0 107.5 L749.0 97.5 M757.9 91.0 L749.0 97.5 L756.4 105.6" stroke="#ff0000" stroke-width="3.5" fill="none" stroke-linejoin="miter"/>
<path d="M351.5 399.5 L313.5 371.5 M324.9 370.4 L313.5 371.5 L315.8 382.8" stroke="#ff0000" stroke-width="3.5" fill="none" stroke-linejoin="miter"/>
<path d="M963.4 350.5 L963.4 302.0 M975.4 315.4 L963.4 302.0 L951.4 315.4" stroke="#f5127c" stroke-width="5" fill="none" stroke-linejoin="miter"/>
<text x="695.5" y="28.8" textLength="182.5" lengthAdjust="spacingAndGlyphs" fill="#ff0000" font-family="Liberation Sans" font-weight="bold" font-size="15.8" stroke="#ff0000" stroke-width="0.45">SKILL: WYVERN ATTACK</text>
<text x="851.6" y="114.6" textLength="92.4" lengthAdjust="spacingAndGlyphs" fill="#ff0000" font-family="Liberation Sans" font-weight="bold" font-size="15.8" stroke="#ff0000" stroke-width="0.45">ICE ESSENSE</text>
<text x="717.8" y="119.5" textLength="36" lengthAdjust="spacingAndGlyphs" fill="#9a08f4" font-family="Liberation Sans" font-weight="bold" font-size="16.8" stroke="#9a08f4" stroke-width="0.6">lever</text>
<text x="1001" y="316.2" textLength="117" lengthAdjust="spacingAndGlyphs" fill="#ff0000" font-family="Liberation Sans" font-weight="bold" font-size="15.8" stroke="#ff0000" stroke-width="0.45">SKILL: SHINING</text>
<text x="1001" y="336.8" textLength="68.5" lengthAdjust="spacingAndGlyphs" fill="#ff0000" font-family="Liberation Sans" font-weight="bold" font-size="15.8" stroke="#ff0000" stroke-width="0.45">ASSAULT</text>
<text x="896" y="372" textLength="134" lengthAdjust="spacingAndGlyphs" fill="#f5127c" font-family="Liberation Sans" font-weight="bold" font-size="15.8" stroke="#f5127c" stroke-width="0.45">TRUE ENDING 2B:</text>
<text x="896" y="392.7" textLength="117" lengthAdjust="spacingAndGlyphs" fill="#f5127c" font-family="Liberation Sans" font-weight="bold" font-size="15.8" stroke="#f5127c" stroke-width="0.45">ELECTRIC LORD</text>
<text x="353" y="412.6" textLength="135.6" lengthAdjust="spacingAndGlyphs" fill="#ff0000" font-family="Liberation Sans" font-weight="bold" font-size="15.8" stroke="#ff0000" stroke-width="0.45">AEGIS FRAGMENT</text>
<text x="411.9" y="617.4" textLength="59.7" lengthAdjust="spacingAndGlyphs" fill="#ff0000" font-family="Liberation Sans" font-weight="bold" font-size="15.8" stroke="#ff0000" stroke-width="0.45">RECIPES</text>
</svg>
</body></html>
